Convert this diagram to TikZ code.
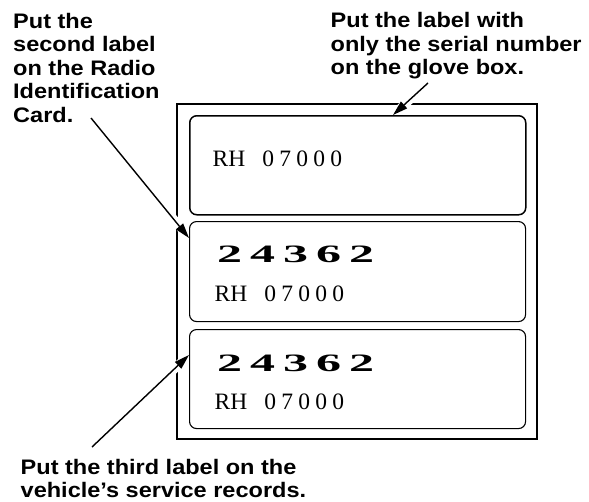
\documentclass[tikz,border=0pt]{standalone}
\usepackage{fontspec}
\usetikzlibrary{arrows.meta}
\newfontfamily\lblfont{Liberation Sans}[FakeStretch=1.12]
\newfontfamily\serfont{Liberation Serif}
\newfontfamily\widefont{Liberation Serif}[FakeStretch=2.0]
\newlength\pitch
\newcommand\pd[1]{\makebox[\pitch][l]{#1}}
\newcommand\rhnum{RH\hspace{17pt}\setlength\pitch{17pt}\pd{0}\pd{7}\pd{0}\pd{0}0}
\newcommand\sernum{\setlength\pitch{33pt}\pd{2}\pd{4}\pd{3}\pd{6}2}
\tikzset{
  callout/.style={font=\lblfont\bfseries\fontsize{21}{23.4}\selectfont, align=left, inner sep=0pt, anchor=north west},
  labelbox/.style={draw, rounded corners=7pt, inner sep=0pt, anchor=north west, minimum width=336pt, minimum height=#1},
  rhtext/.style={font=\serfont\fontsize{23.5}{25}\selectfont, inner sep=0pt, anchor=base west},
  sertext/.style={font=\widefont\bfseries\fontsize{25}{26}\selectfont, inner sep=0pt, anchor=base west},
  leader/.style={line width=1.4pt, -{Triangle[length=15pt,width=9pt]}},
  halo/.style={draw=white, line width=9pt, shorten >=3pt, shorten <=20pt}
}
\begin{document}
\begin{tikzpicture}[x=1pt,y=-1pt]
\useasboundingbox (0,0) rectangle (589,501);
% outer card
\draw[line width=2pt] (177,104) rectangle (537,438.5);
% callout texts
\node[callout] (tl) at (13,13) {Put the\\second label\\on the Radio\\Identification\\Card.};
\node[callout] (tr) at (330.5,12.5) {Put the label with\\only the serial number\\on the glove box.};
\node[callout] (bt) at (20.5,459) {Put the third label on the\\vehicle’s service records.};
% leader ends
\coordinate (s1) at (428,83);
\coordinate (t1) at (393,115);
\coordinate (s2) at (91,118);
\coordinate (t2) at (189,238);
\coordinate (s3) at (92,447);
\coordinate (t3) at (189,355);
% white gaps in the card border
\draw[halo] (s1) -- (t1);
\draw[halo] (s2) -- (t2);
\draw[halo] (s3) -- (t3);
% labels
\node[labelbox=99pt, line width=1.5pt] (b1) at (189,115) {};
\node[labelbox=100pt, line width=1.1pt] (b2) at (189,221) {};
\node[labelbox=99pt, line width=1.1pt] (b3) at (189,329) {};
\node[rhtext] (r1) at (212.5,166.7) {\rhnum};
\node[sertext] (n2) at (217,262) {\sernum};
\node[rhtext] (r2) at (214.5,301) {\rhnum};
\node[sertext] (n3) at (217,371) {\sernum};
\node[rhtext] (r3) at (214.5,409.5) {\rhnum};
% leaders
\draw[leader] (s1) -- (t1);
\draw[leader] (s2) -- (t2);
\draw[leader] (s3) -- (t3);
\end{tikzpicture}
\end{document}
